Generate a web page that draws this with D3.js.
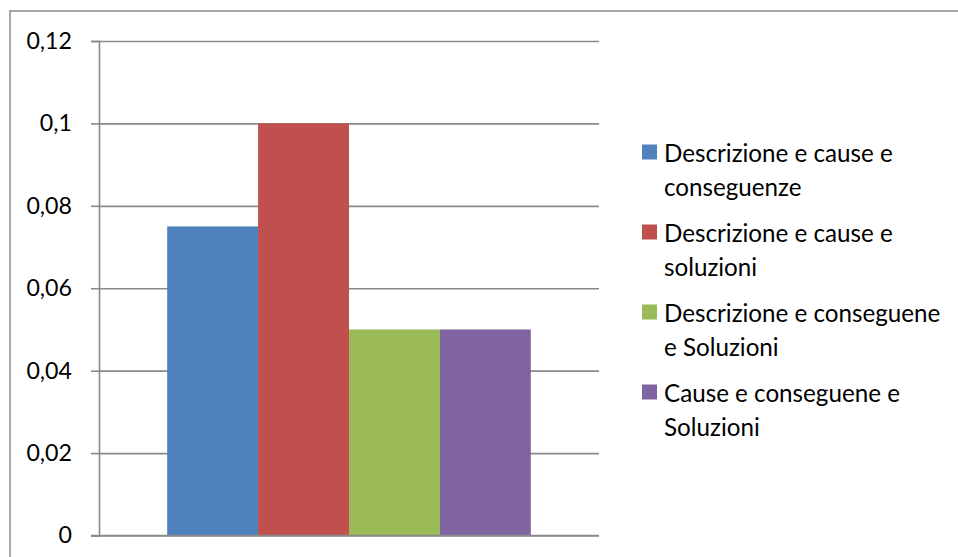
<!DOCTYPE html>
<html>
<head>
<meta charset="utf-8">
<script src="https://cdn.jsdelivr.net/npm/d3@7/dist/d3.min.js"></script>
<style>
  html, body { margin: 0; padding: 0; background: #fff; }
  svg { display: block; }
  text { font-family: Lato, "Open Sans", sans-serif; fill: #000; }
</style>
</head>
<body>
<svg id="chart" width="958" height="557"></svg>
<script>
// Series names (shown in the legend), one bar each
const seriesNames = [
  "Descrizione e cause e conseguenze",
  "Descrizione e cause e soluzioni",
  "Descrizione e conseguene e Soluzioni",
  "Cause e conseguene e Soluzioni"
];
// Legend text broken into lines
const legendLines = [
  ["Descrizione e cause e", "conseguenze"],
  ["Descrizione e cause e", "soluzioni"],
  ["Descrizione e conseguene", "e Soluzioni"],
  ["Cause e conseguene e", "Soluzioni"]
];
const seriesValues = [0.075, 0.1, 0.05, 0.05];
const seriesColors = ["#4F81BD", "#C0504D", "#9BBB59", "#8064A2"];
const tickValues = [0, 0.02, 0.04, 0.06, 0.08, 0.1, 0.12];
const tickLabels = ["0", "0,02", "0,04", "0,06", "0,08", "0,1", "0,12"];

const svg = d3.select("#chart");
const plot = { left: 99, right: 599, top: 41, bottom: 535.5 };
const legendFont = 24.2;
const tickFont = 23.2;

// Outer chart frame
svg.append("rect")
  .attr("x", 10).attr("y", 11)
  .attr("width", 960).attr("height", 560)
  .attr("fill", "none").attr("stroke", "#8c8c8c").attr("stroke-width", 1.5);

const y = d3.scaleLinear().domain([0, 0.12]).range([plot.bottom, plot.top]);
const x = d3.scaleBand().domain(seriesNames)
  .range([plot.left, plot.right]).paddingInner(0).paddingOuter(0.75);

// Horizontal gridlines
svg.append("g")
  .attr("transform", `translate(${plot.left},0)`)
  .call(d3.axisLeft(y).tickValues(tickValues).tickSize(-(plot.right - plot.left)).tickFormat(""))
  .call(g => g.select(".domain").remove())
  .call(g => g.selectAll("line").attr("stroke", "#8a8a8a").attr("stroke-width", 1.6));

// Bars
svg.append("g").selectAll("rect")
  .data(seriesNames)
  .join("rect")
  .attr("x", d => x(d))
  .attr("width", x.bandwidth())
  .attr("y", (d, i) => y(seriesValues[i]))
  .attr("height", (d, i) => y(0) - y(seriesValues[i]))
  .attr("fill", (d, i) => seriesColors[i]);

// Y axis with comma-decimal labels
svg.append("g")
  .attr("transform", `translate(${plot.left},0)`)
  .call(d3.axisLeft(y).tickValues(tickValues).tickSize(8).tickPadding(19)
    .tickFormat((d, i) => tickLabels[i]))
  .call(g => g.select(".domain").attr("stroke", "#8a8a8a").attr("stroke-width", 1.6))
  .call(g => g.selectAll(".tick line").attr("stroke", "#8a8a8a").attr("stroke-width", 1.6))
  .call(g => g.selectAll(".tick text")
    .attr("font-size", tickFont).attr("font-family", "Lato, 'Open Sans', sans-serif")
    .attr("fill", "#000"));

// Baseline along zero
svg.append("line")
  .attr("x1", plot.left - 8).attr("x2", plot.right)
  .attr("y1", y(0)).attr("y2", y(0))
  .attr("stroke", "#8a8a8a").attr("stroke-width", 1.6);

// Legend
const legend = svg.append("g");
const entryTop = 152, entryStep = 80, lineStep = 33.5;
seriesNames.forEach((name, i) => {
  const cy = entryTop + i * entryStep;
  legend.append("rect")
    .attr("x", 642).attr("y", cy - 7.5)
    .attr("width", 15).attr("height", 15)
    .attr("fill", seriesColors[i]);
  const t = legend.append("text")
    .attr("x", 664).attr("y", cy)
    .attr("dominant-baseline", "central")
    .attr("font-size", legendFont);
  legendLines[i].forEach((line, j) => {
    t.append("tspan").attr("x", 664).attr("dy", j === 0 ? 0 : lineStep).text(line);
  });
});
</script>
</body>
</html>
